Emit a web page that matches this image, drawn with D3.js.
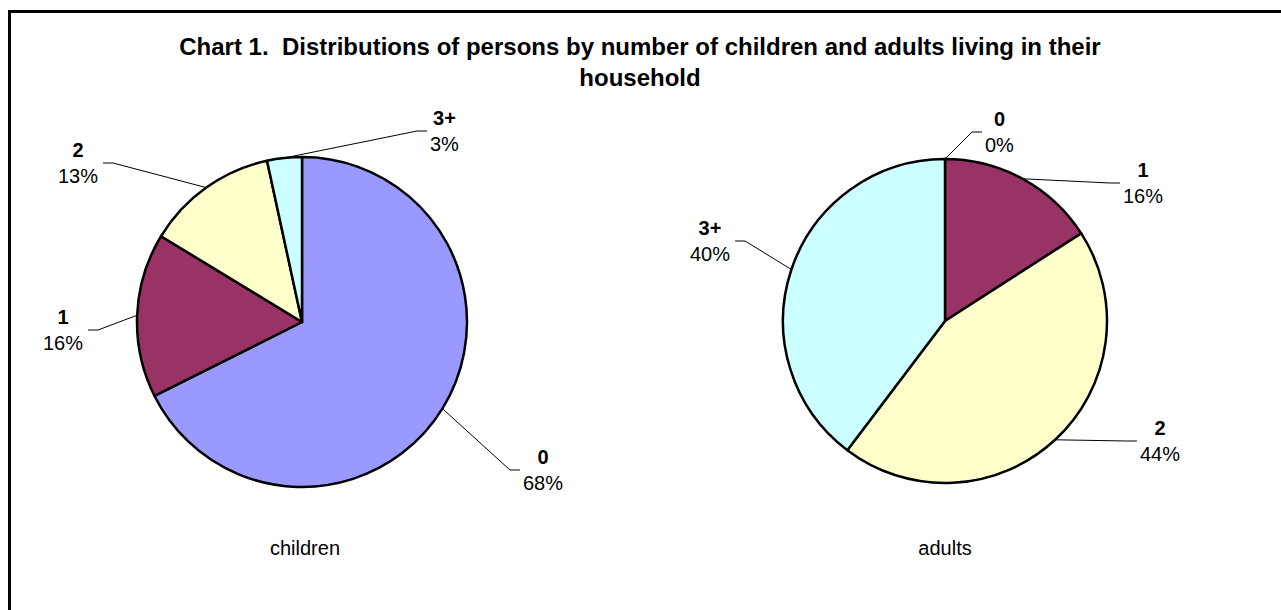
<!DOCTYPE html>
<html>
<head>
<meta charset="utf-8">
<script src="https://cdn.jsdelivr.net/npm/d3@7"></script>
<style>
  body { margin: 0; background: #fff; }
  svg { display: block; font-family: Arial, "Liberation Sans", sans-serif; }
</style>
</head>
<body>
<svg id="chart" width="1281" height="610"></svg>
<script>
// ---- data -------------------------------------------------------------
const categories = ["0", "1", "2", "3+"];
const childrenShares = [67.6, 16.1, 12.9, 3.4];   // % of persons by number of children in household
const adultShares = [0, 15.9, 44.4, 39.7];        // % of persons by number of adults in household
const pieNames = ["children", "adults"];
const sliceColors = ["#9999FF", "#993366", "#FFFFCC", "#CCFFFF"];
const titleLines = [
  "Chart 1.  Distributions of persons by number of children and adults living in their",
  "household"
];

// ---- layout -----------------------------------------------------------
const W = 1281, H = 610;
const pies = [
  { name: pieNames[0], values: childrenShares, cx: 302, cy: 322, r: 165,
    // leader elbow relative to the pie centre; side = which way the label sits
    labels: [{ dx: 208, dy: 148, side: 1 }, { dx: -204, dy: 8, side: -1 },
             { dx: -189, dy: -159, side: -1 }, { dx: 115, dy: -191, side: 1 }] },
  { name: pieNames[1], values: adultShares, cx: 945, cy: 321, r: 162,
    labels: [{ dx: 27, dy: -189, side: 1 }, { dx: 165, dy: -138, side: 1 },
             { dx: 182, dy: 120, side: 1 }, { dx: -200, dy: -80, side: -1 }] }
];

const svg = d3.select("#chart");

// outer frame
svg.append("rect")
  .attr("x", 9.5).attr("y", 11.5)
  .attr("width", W + 20).attr("height", H + 20)
  .attr("fill", "#fff").attr("stroke", "#000").attr("stroke-width", 3);

// title
svg.append("g").selectAll("text").data(titleLines).join("text")
  .attr("x", 640).attr("y", (d, i) => 55 + i * 31)
  .attr("text-anchor", "middle")
  .attr("font-size", 24).attr("font-weight", "bold")
  .attr("fill", "#000")
  .style("white-space", "pre")
  .text(d => d);

const pieGen = d3.pie().sort(null).value(d => d);
const color = d3.scaleOrdinal().domain(categories).range(sliceColors);

pies.forEach(p => {
  const g = svg.append("g").attr("transform", `translate(${p.cx},${p.cy})`);
  const arcs = pieGen(p.values);
  const arc = d3.arc().innerRadius(0).outerRadius(p.r);

  g.selectAll("path.slice").data(arcs).join("path")
    .attr("class", "slice")
    .attr("d", arc)
    .attr("fill", (d, i) => color(categories[i]))
    .attr("stroke", "#000").attr("stroke-width", 2.5)
    .attr("stroke-linejoin", "round");

  // leader lines + labels
  arcs.forEach((a, i) => {
    const mid = (a.startAngle + a.endAngle) / 2;
    const ex = p.r * Math.sin(mid), ey = -p.r * Math.cos(mid);
    const L = p.labels[i];
    const hx = L.dx + L.side * 10;
    g.append("polyline")
      .attr("points", `${ex},${ey} ${L.dx},${L.dy} ${hx},${L.dy}`)
      .attr("fill", "none").attr("stroke", "#000").attr("stroke-width", 1);

    const lab = g.append("g");
    const t1 = lab.append("text")
      .attr("text-anchor", "middle").attr("font-size", 20).attr("font-weight", "bold")
      .attr("y", L.dy - 6).text(categories[i]);
    const t2 = lab.append("text")
      .attr("text-anchor", "middle").attr("font-size", 20)
      .attr("y", L.dy + 20).text(Math.round(p.values[i]) + "%");
    const wMax = Math.max(t1.node().getComputedTextLength(), t2.node().getComputedTextLength());
    const cx = L.side > 0 ? hx + 3 + wMax / 2 : hx - 5 - wMax / 2;
    t1.attr("x", cx); t2.attr("x", cx);
  });

  svg.append("text")
    .attr("x", p.cx + (p.name === "children" ? 3 : 0)).attr("y", 555)
    .attr("text-anchor", "middle").attr("font-size", 20)
    .text(p.name);
});
</script>
</body>
</html>
